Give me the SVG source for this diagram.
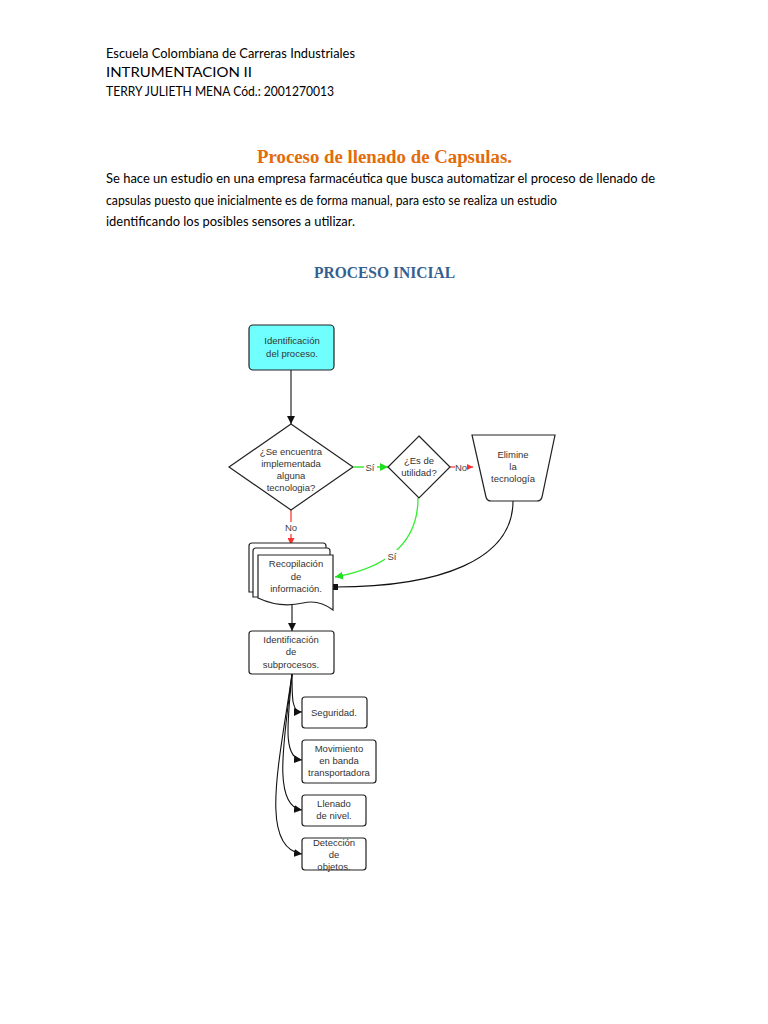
<svg xmlns="http://www.w3.org/2000/svg" width="768" height="1024" viewBox="0 0 768 1024">
<style>
.hd{font-family:Lato,"Open Sans","Liberation Sans",sans-serif;font-size:13px;fill:#000}
.ttl{font-family:"Liberation Serif",serif;font-weight:bold}
.nt{font-family:"Liberation Sans",Arial,sans-serif;font-size:9.5px;fill:#333;text-anchor:middle}
.lb{font-family:"Liberation Sans",Arial,sans-serif;font-size:9.5px;fill:#444;text-anchor:middle}
.box{fill:#fff;stroke:#222;stroke-width:1.2}
.ln{fill:none;stroke:#111;stroke-width:1.1}
.gr{fill:none;stroke:#33ee33;stroke-width:1.3}
.rd{fill:none;stroke:#ff3b3b;stroke-width:1.3}
</style>
<defs>
<marker id="ak" viewBox="0 0 10 10" refX="10" refY="5" markerWidth="8" markerHeight="8" markerUnits="userSpaceOnUse" orient="auto"><path d="M0,0 L10,5 L0,10 Z" fill="#111"/></marker>
<marker id="ag" viewBox="0 0 10 10" refX="10" refY="5" markerWidth="8" markerHeight="8" markerUnits="userSpaceOnUse" orient="auto"><path d="M0,0 L10,5 L0,10 Z" fill="#22dd22"/></marker>
<marker id="ar" viewBox="0 0 10 10" refX="10" refY="5" markerWidth="7" markerHeight="7" markerUnits="userSpaceOnUse" orient="auto"><path d="M0,0 L10,5 L0,10 Z" fill="#ff3030"/></marker>
<marker id="sq" viewBox="0 0 10 10" refX="5" refY="5" markerWidth="6" markerHeight="6" markerUnits="userSpaceOnUse"><rect x="0" y="0" width="10" height="10" fill="#111"/></marker>
</defs>
<rect width="768" height="1024" fill="#fff"/>

<g id="header">
<text class="hd" x="106" y="58" textLength="249" lengthAdjust="spacingAndGlyphs">Escuela Colombiana de Carreras Industriales</text>
<text class="hd" x="106" y="77" textLength="146" lengthAdjust="spacingAndGlyphs">INTRUMENTACION II</text>
<text class="hd" x="106" y="96" textLength="228" lengthAdjust="spacingAndGlyphs">TERRY JULIETH MENA Cód.: 2001270013</text>
<text class="ttl" x="257" y="163" font-size="18" fill="#e36c0a" textLength="255" lengthAdjust="spacingAndGlyphs">Proceso de llenado de Capsulas.</text>
<text class="hd" x="106" y="183" textLength="549" lengthAdjust="spacingAndGlyphs">Se hace un estudio en una empresa farmacéutica que busca automatizar el proceso de llenado de</text>
<text class="hd" x="106" y="205" textLength="451" lengthAdjust="spacingAndGlyphs">capsulas puesto que inicialmente es de forma manual, para esto se realiza un estudio</text>
<text class="hd" x="106" y="226" textLength="249" lengthAdjust="spacingAndGlyphs">identificando los posibles sensores a utilizar.</text>
<text class="ttl" x="314" y="278" font-size="16" fill="#365f91" textLength="141" lengthAdjust="spacingAndGlyphs">PROCESO INICIAL</text>
</g>

<g id="connectors">
<path class="ln" d="M291,370 V424" marker-end="url(#ak)"/>
<path class="gr" d="M354,467 H388" marker-end="url(#ag)"/>
<path class="rd" d="M450,467 H473" marker-end="url(#ar)"/>
<path class="rd" d="M291,510 V545" marker-end="url(#ar)"/>
<path class="gr" d="M418,498 C418,545 385,568 335,577" marker-end="url(#ag)"/>
<path class="ln" d="M513,501 C513,560 440,587 335,587" marker-end="url(#sq)"/>
<path class="ln" d="M292,604 V631" marker-end="url(#ak)"/>
<path class="ln" d="M292,674 C292,700 292,712 302,712" marker-end="url(#ak)"/>
<path class="ln" d="M292,674 C288,720 282,758 302,760" marker-end="url(#ak)"/>
<path class="ln" d="M292,674 C284,740 272,806 302,810" marker-end="url(#ak)"/>
<path class="ln" d="M292,674 C280,760 258,848 302,854" marker-end="url(#ak)"/>
<rect x="364" y="461" width="13" height="12" fill="#fff"/>
<text class="lb" x="370" y="471">Sí</text>
<rect x="455" y="461" width="12" height="12" fill="#fff"/>
<text class="lb" x="461" y="471">No</text>
<rect x="282" y="522" width="18" height="12" fill="#fff"/>
<text class="lb" x="291" y="531">No</text>
<rect x="385" y="550" width="14" height="12" fill="#fff"/>
<text class="lb" x="392" y="560">Sí</text>
</g>

<g id="n1">
<rect x="249" y="325" width="85" height="45" rx="4" fill="#70ffff" stroke="#222" stroke-width="1.2"/>
<text class="nt" x="292" y="344">Identificación</text>
<text class="nt" x="292" y="357">del proceso.</text>
</g>

<g id="n2">
<path class="box" d="M291,424 L353,467 L291,510 L229,467 Z"/>
<text class="nt" x="291" y="455">¿Se encuentra</text>
<text class="nt" x="291" y="467">implementada</text>
<text class="nt" x="291" y="479">alguna</text>
<text class="nt" x="291" y="491">tecnologia?</text>
</g>

<g id="n3">
<path class="box" d="M419,436 L450,467 L419,498 L388,467 Z"/>
<text class="nt" x="419" y="464">¿Es de</text>
<text class="nt" x="419" y="476">utilidad?</text>
</g>

<g id="n4">
<path class="box" d="M472,435 H555 L542,497 Q541,501 537,501 H491 Q487,501 486,497 Z"/>
<text class="nt" x="513" y="458">Elimine</text>
<text class="nt" x="513" y="470">la</text>
<text class="nt" x="513" y="482">tecnología</text>
</g>

<g id="n5">
<path class="box" d="M249,546 Q249,543 252,543 H323 Q326,543 326,546 V592 H249 Z"/>
<path class="box" d="M253,551 Q253,548 256,548 H327 Q330,548 330,551 V597 H253 Z"/>
<path class="box" d="M258,555 H333 V610 C325,604 315,600 303,603 C290,606 275,606 258,598 Z"/>
<text class="nt" x="296" y="567">Recopilación</text>
<text class="nt" x="296" y="580">de</text>
<text class="nt" x="296" y="592">información.</text>
</g>

<g id="n6">
<rect class="box" x="249" y="631" width="85" height="43" rx="3"/>
<text class="nt" x="291" y="643">Identificación</text>
<text class="nt" x="291" y="655">de</text>
<text class="nt" x="291" y="668">subprocesos.</text>
</g>

<g id="n7">
<rect class="box" x="302" y="697" width="65" height="31" rx="3"/>
<text class="nt" x="334" y="716">Seguridad.</text>
</g>

<g id="n8">
<rect class="box" x="302" y="740" width="74" height="43" rx="3"/>
<text class="nt" x="339" y="752">Movimiento</text>
<text class="nt" x="339" y="764">en banda</text>
<text class="nt" x="339" y="776">transportadora</text>
</g>

<g id="n9">
<rect class="box" x="302" y="795" width="64" height="31" rx="3"/>
<text class="nt" x="334" y="807">Llenado</text>
<text class="nt" x="334" y="819">de nivel.</text>
</g>

<g id="n10">
<rect class="box" x="302" y="838" width="64" height="32" rx="3"/>
<text class="nt" x="334" y="846">Detección</text>
<text class="nt" x="334" y="858">de</text>
<text class="nt" x="334" y="870">objetos.</text>
</g>
</svg>
